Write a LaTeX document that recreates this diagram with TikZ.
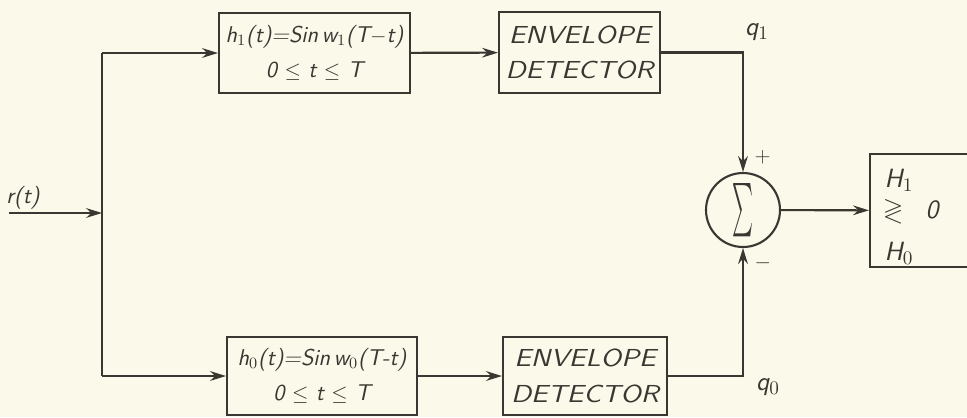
\documentclass[tikz,border=0pt]{standalone}
\usepackage{fontspec}
\usepackage{amssymb}
\usepackage{amsmath}
\usetikzlibrary{arrows.meta}
\definecolor{paper}{RGB}{250,249,234}
\definecolor{ink}{RGB}{58,54,50}
\newcommand{\hand}{\sffamily\itshape\fontsize{13}{20}\selectfont}
\newcommand{\wide}[1]{\scalebox{1.16}[1]{\fontsize{14}{19}\selectfont #1}}

\begin{document}
\begin{tikzpicture}[x=0.02cm,y=-0.02cm,auto]

%
% Styles
%
\tikzstyle{block} = [rectangle,draw=ink,line width=1.2pt,inner sep=0pt,align=center,font=\hand,text=ink]
\tikzstyle{wire} = [draw=ink,line width=1.2pt,-{Stealth[length=9pt,width=5.5pt]}]
\tikzstyle{lbl} = [font=\hand,text=ink,inner sep=1pt]
\tikzstyle{biglbl} = [font=\hand\fontsize{15}{18}\selectfont,text=ink,inner sep=1pt]

\fill[paper] (0,0) rectangle (967,417);
\useasboundingbox (0,0) rectangle (967,417);

\node[block,minimum width=3.82cm,minimum height=1.6cm] (h1) at (314.5,53)
  {h$_1$(t)=Sin\,w$_1$(T$-$t)\\0 $\leq$ t $\leq$ T};
\node[block,minimum width=3.22cm,minimum height=1.62cm] (env1) at (579.5,52.5)
  {\wide{ENVELOPE}\\\wide{DETECTOR}};
\node[block,minimum width=3.8cm,minimum height=1.56cm] (h0) at (322,376)
  {h$_0$(t)=Sin\,w$_0$(T-t)\\0 $\leq$ t $\leq$ T};
\node[block,minimum width=3.28cm,minimum height=1.56cm] (env0) at (585,376)
  {\wide{ENVELOPE}\\\wide{DETECTOR}};
\node[circle,draw=ink,line width=1.2pt,minimum size=1.48cm,inner sep=0pt,text=ink] (sum) at (743,210)
  {\resizebox{0.42cm}{0.8cm}{$\sum$}};
\node[block,minimum width=2.6cm,minimum height=2.26cm] (dec) at (935,210.5) {};

\node[lbl] (rt) at (23,198) {r(t)};
\node[biglbl] (q1) at (757,32) {q$_1$};
\node[biglbl] (q0) at (768,387) {q$_0$};
\node[biglbl] (hyp1) at (899,180) {H$_1$};
\node[biglbl] (cmp) at (893,211) {$\gtrless$};
\node[biglbl] (thr) at (932,210) {0};
\node[biglbl] (hyp0) at (899,253) {H$_0$};

\coordinate (in) at (9,213);
\coordinate (j) at (102,213);

\draw[wire] (in) -- (j);
\draw[draw=ink,line width=1.2pt] (j |- h1.west) -- (j |- h0.west);
\draw[wire] (j |- h1.west) -- (h1);
\draw[wire] (j |- h0.west) -- (h0);
\draw[wire] (h1) -- (env1);
\draw[wire] (h0) -- (env0);
\draw[wire] (env1) -| node[pos=0.94,right,xshift=5pt,lbl] {$+$} (sum);
\draw[wire] (env0) -| node[pos=0.94,right,xshift=5pt,lbl] {$-$} (sum);
\draw[wire] (sum) -- (dec);

\end{tikzpicture}
\end{document}
